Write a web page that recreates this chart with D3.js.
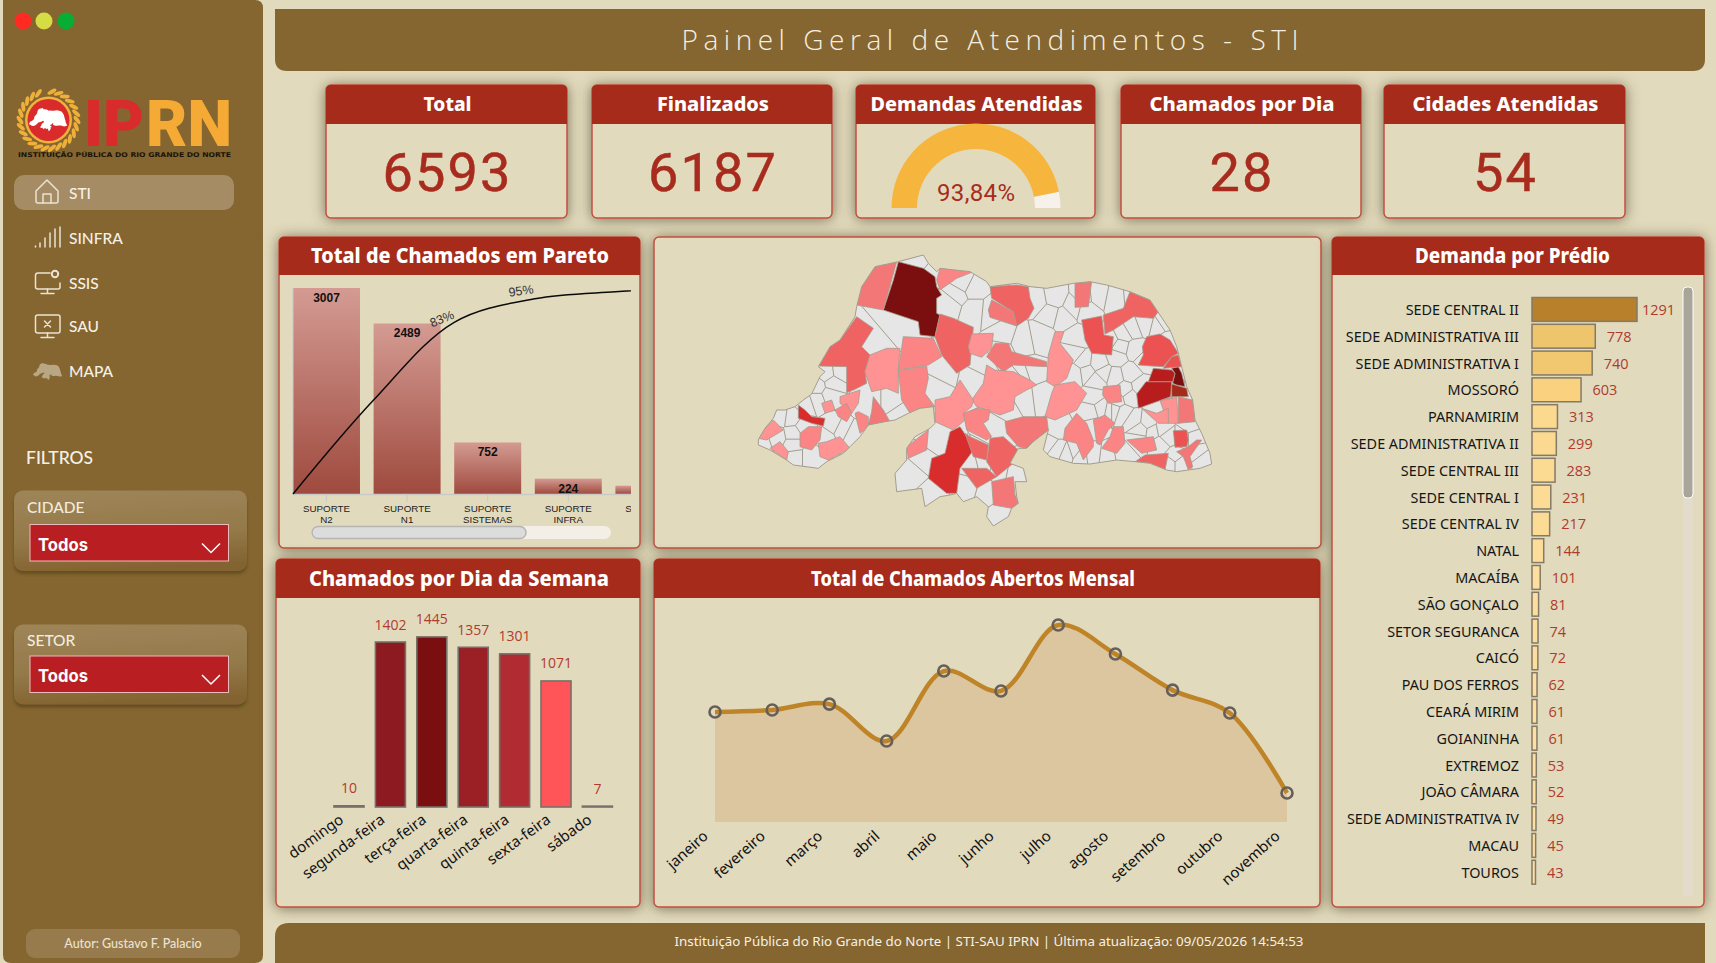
<!DOCTYPE html>
<html lang="pt-BR">
<head>
<meta charset="utf-8">
<title>Painel Geral de Atendimentos - STI</title>
<script src="https://cdnjs.cloudflare.com/ajax/libs/d3/7.9.0/d3.min.js"></script>
<style>
  html, body { margin: 0; padding: 0; background: #e2dabd; overflow: hidden; }
  svg { display: block; }
</style>
</head>
<body>
<svg id="painel" width="1716" height="963"></svg>
<script>
// ---------- dados ----------
const kpiTitles = ["Total", "Finalizados", "Demandas Atendidas", "Chamados por Dia", "Cidades Atendidas"];
const totalChamados = 6593;
const finalizados = 6187;
const chamadosPorDia = 28;
const cidadesAtendidas = 54;

const paretoCategories = ["SUPORTE N2", "SUPORTE N1", "SUPORTE SISTEMAS", "SUPORTE INFRA", "SUPORTE"];
const paretoValues = [3007, 2489, 752, 224, 121];

const weekDays = ["domingo", "segunda-feira", "terça-feira", "quarta-feira", "quinta-feira", "sexta-feira", "sábado"];
const weekValues = [10, 1402, 1445, 1357, 1301, 1071, 7];

const months = ["janeiro", "fevereiro", "março", "abril", "maio", "junho", "julho", "agosto", "setembro", "outubro", "novembro"];
const monthValues = [542, 552, 581, 399, 744, 646, 971, 828, 650, 537, 143];

const predioNames = ["SEDE CENTRAL II", "SEDE ADMINISTRATIVA III", "SEDE ADMINISTRATIVA I", "MOSSORÓ", "PARNAMIRIM",
  "SEDE ADMINISTRATIVA II", "SEDE CENTRAL III", "SEDE CENTRAL I", "SEDE CENTRAL IV", "NATAL", "MACAÍBA", "SÃO GONÇALO",
  "SETOR SEGURANCA", "CAICÓ", "PAU DOS FERROS", "CEARÁ MIRIM", "GOIANINHA", "EXTREMOZ", "JOÃO CÂMARA",
  "SEDE ADMINISTRATIVA IV", "MACAU", "TOUROS"];
const predioValues = [1291, 778, 740, 603, 313, 299, 283, 231, 217, 144, 101, 81, 74, 72, 62, 61, 61, 53, 52, 49, 45, 43];

const navItems = ["STI", "SINFRA", "SSIS", "SAU", "MAPA"];
const filterNames = ["CIDADE", "SETOR"];

// Contorno do estado, em unidades do mapa (0-1500 x 0-900)
const stateOutline = [[55,600],[60,590],[75,565],[100,535],[110,510],[135,510],[165,500],[190,480],[215,462],[240,410],[255,395],[235,380],[270,320],[300,300],[345,230],[350,200],[365,140],[405,80],[475,65],[550,45],[565,70],[590,95],[600,85],[690,95],[740,125],[750,140],[830,130],[870,140],[920,145],[1000,130],[1050,125],[1100,135],[1170,155],[1230,180],[1260,225],[1290,270],[1310,320],[1325,380],[1340,440],[1358,480],[1365,540],[1385,580],[1410,640],[1415,672],[1380,685],[1345,690],[1310,695],[1280,690],[1230,670],[1185,665],[1130,660],[1050,672],[1000,670],[930,650],[910,630],[925,570],[880,605],[860,625],[835,625],[810,670],[850,685],[860,725],[825,725],[830,770],[835,790],[815,805],[805,830],[760,858],[740,830],[745,800],[710,770],[670,785],[650,760],[630,765],[600,770],[555,800],[545,745],[470,755],[465,700],[500,660],[500,625],[525,590],[570,565],[585,550],[580,500],[540,505],[505,520],[465,540],[435,545],[385,555],[360,590],[330,620],[310,640],[260,665],[235,685],[160,675],[140,660],[90,630],[55,615]];

// Municípios sem chamados: sementes das células cinzas
const emptyCitySeeds = [[400,310],[470,250],[540,70],[570,95],[650,165],[630,190],[700,145],[700,210],[755,215],[790,280],[890,185],[900,290],[945,175],[970,230],[1030,170],[1075,165],[1125,175],[1010,295],[1040,210],[1175,265],[1255,260],[1140,320],[1185,330],[1030,365],[1075,370],[1130,350],[1070,420],[1125,410],[1170,400],[1215,360],[610,400],[590,440],[700,420],[725,370],[870,395],[900,475],[860,480],[1005,400],[1060,470],[1110,510],[1050,515],[1170,470],[1150,520],[1225,545],[1240,575],[1280,590],[1360,590],[1370,640],[1320,670],[1290,670],[1150,640],[1100,650],[1060,645],[950,625],[950,570],[1000,635],[595,600],[520,700],[550,665],[575,760],[680,750],[735,765],[775,825],[815,695],[700,670],[775,560],[800,515],[470,490],[480,505],[375,490],[280,560],[300,570],[340,590],[260,590],[230,440],[280,430],[260,400],[300,395],[230,480],[200,490],[120,530],[155,535],[160,580],[110,590],[160,615],[165,650],[210,650],[65,605],[190,560],[270,465],[1260,610],[1265,570],[1330,590],[1200,570],[1180,540],[1195,600],[1120,510],[1085,505],[1090,400],[1155,450],[1200,440],[1305,650],[1385,660],[1350,560],[930,610],[1040,395],[1000,340],[1150,280],[1110,300],[1215,250],[1270,250],[1280,300],[850,300],[930,220],[1000,200],[1180,170],[670,130],[780,335],[830,420],[855,400],[1130,480],[1060,560],[985,640],[1020,650],[790,690],[720,665]];

// Faixas de intensidade do mapa, da mais clara para a mais escura
const mapShades = ["#ff9292", "#fb8585", "#f47777", "#ef6363", "#ec5252", "#d92c2c", "#b81d1d", "#a52a1a", "#7b0f0f"];

// Municípios com chamados: [faixa, contorno]
const activeCities = [
  [8, [[475,65],[550,85],[585,110],[590,140],[605,165],[590,175],[590,220],[600,225],[585,290],[540,285],[535,245],[430,210],[460,120]]],
  [8, [[1295,385],[1315,380],[1325,400],[1335,440],[1310,435],[1298,430],[1305,400]]],
  [6, [[1190,462],[1218,425],[1295,425],[1292,470],[1195,505]]],
  [6, [[1240,385],[1295,390],[1305,400],[1298,425],[1225,425]]],
  [7, [[1295,432],[1340,445],[1345,470],[1295,470]]],
  [5, [[630,575],[660,560],[680,590],[697,635],[660,685],[650,760],[620,760],[565,715],[575,655],[615,640]]],
  [5, [[175,495],[195,510],[215,530],[255,535],[250,558],[215,550],[175,535]]],
  [4, [[1220,290],[1260,282],[1290,300],[1315,340],[1295,350],[1270,380],[1235,378],[1195,375],[1210,345],[1207,320]]],
  [4, [[1295,350],[1315,345],[1325,380],[1270,385]]],
  [3, [[750,140],[830,135],[865,140],[870,175],[882,205],[865,235],[830,258],[820,215],[755,175]]],
  [4, [[1025,240],[1085,228],[1092,285],[1120,290],[1115,345],[1055,340],[1035,300]]],
  [3, [[1170,155],[1230,180],[1255,215],[1240,235],[1180,230],[1120,270],[1095,282],[1090,225],[1150,205]]],
  [4, [[1300,572],[1340,570],[1345,600],[1340,620],[1305,622]]],
  [3, [[1185,665],[1215,645],[1285,640],[1275,690],[1230,670]]],
  [3, [[585,290],[600,222],[640,235],[700,262],[690,375],[650,400],[605,345]]],
  [3, [[350,230],[400,265],[365,320],[390,345],[375,395],[380,430],[345,448],[320,458],[320,380],[237,378],[270,320],[300,300]]],
  [2, [[405,80],[470,65],[430,210],[350,195],[365,140]]],
  [2, [[755,180],[820,215],[830,258],[750,232],[745,210]]],
  [3, [[740,665],[750,595],[790,590],[835,630],[820,670],[770,710]]],
  [3, [[675,580],[690,590],[745,615],[740,660],[700,650]]],
  [3, [[665,685],[740,685],[770,710],[710,745]]],
  [2, [[755,725],[820,710],[825,765],[835,790],[815,805],[760,795]]],
  [0, [[390,345],[440,325],[480,325],[475,385],[475,460],[440,445],[395,455],[375,395]]],
  [1, [[490,290],[580,295],[605,350],[565,375],[475,390]]],
  [1, [[475,392],[560,378],[565,415],[555,460],[585,500],[540,505],[510,520],[485,480]]],
  [1, [[600,85],[640,85],[700,95],[650,115],[600,150],[590,120]]],
  [0, [[695,282],[760,280],[755,325],[725,352],[690,340],[685,320]]],
  [2, [[765,310],[805,310],[815,335],[920,365],[920,380],[820,375],[790,395],[740,350]]],
  [0, [[740,375],[765,390],[820,395],[870,420],[890,435],[860,450],[825,470],[820,510],[780,525],[740,510],[710,500],[695,480],[730,430]]],
  [0, [[660,420],[700,480],[695,500],[670,520],[675,540],[640,570],[585,545],[585,480],[630,470]]],
  [1, [[710,505],[750,510],[745,540],[730,550],[755,590],[740,600],[680,570],[670,520]]],
  [0, [[945,275],[972,275],[960,310],[1000,360],[980,415],[945,440],[920,425],[925,345]]],
  [0, [[945,435],[1005,425],[1040,460],[1010,510],[945,540],[915,530],[935,460]]],
  [2, [[795,545],[850,530],[920,530],[925,570],[880,605],[860,625],[835,620],[800,580]]],
  [1, [[1010,520],[1040,550],[1060,600],[1060,620],[1030,660],[1010,610],[970,600],[975,565]]],
  [1, [[1060,540],[1095,525],[1125,550],[1105,570],[1080,615],[1070,610]]],
  [1, [[1120,560],[1150,560],[1155,610],[1130,640],[1085,625],[1110,590]]],
  [1, [[1160,600],[1240,590],[1250,630],[1205,640]]],
  [2, [[1005,130],[1055,125],[1045,200],[1005,202]]],
  [1, [[1090,440],[1140,435],[1145,485],[1105,490],[1088,465]]],
  [0, [[1260,482],[1310,472],[1315,550],[1285,550]]],
  [2, [[1315,470],[1358,480],[1365,545],[1315,550]]],
  [0, [[1205,505],[1250,520],[1285,505],[1285,550],[1255,550]]],
  [2, [[1310,635],[1345,620],[1370,600],[1385,600],[1350,650],[1358,680],[1345,690],[1330,650]]],
  [1, [[500,620],[565,570],[560,630],[505,655]]],
  [0, [[70,570],[100,540],[130,570],[80,600],[55,595]]],
  [0, [[90,625],[120,605],[145,635],[140,660]]],
  [1, [[180,580],[205,560],[245,560],[240,600],[215,630],[180,620]]],
  [0, [[235,610],[260,605],[300,590],[330,625],[265,660],[240,650]]],
  [0, [[300,470],[360,450],[355,490],[335,520],[300,490]]],
  [1, [[285,510],[320,490],[335,520],[320,545],[295,530]]],
  [0, [[245,490],[275,480],[285,510],[255,520]]],
  [2, [[400,470],[430,510],[450,545],[385,555],[395,515]]],
  [1, [[345,520],[355,515],[385,530],[385,560],[360,580]]]
];

// ---------- estilos comuns ----------
const BROWN = "#856530", RED_HEAD = "#a62b1a", RED_TEXT = "#a82c1e", PANEL = "#e2dabd", CREAM = "#f4efe2";
const UI_FONT = "'Noto Sans', 'Open Sans', sans-serif";
const NAV_FONT = "Lato, 'Noto Sans', sans-serif";
const NARROW_FONT = "'Liberation Sans Narrow', Roboto, sans-serif";
const svg = d3.select("#painel");
const defs = svg.append("defs");

const glow = defs.append("filter").attr("id", "sombra")
  .attr("x", "-15%").attr("y", "-15%").attr("width", "130%").attr("height", "130%");
glow.append("feDropShadow").attr("dx", 0).attr("dy", 1).attr("stdDeviation", 7)
  .attr("flood-color", "#4d4526").attr("flood-opacity", 0.7);

const softShadow = defs.append("filter").attr("id", "sombraFiltro")
  .attr("x", "-10%").attr("y", "-10%").attr("width", "120%").attr("height", "130%");
softShadow.append("feDropShadow").attr("dx", 0).attr("dy", 3).attr("stdDeviation", 1.5)
  .attr("flood-color", "#4a3a14").attr("flood-opacity", 0.55);

const barFade = defs.append("linearGradient").attr("id", "barraPareto")
  .attr("x1", 0).attr("x2", 0).attr("y1", 0).attr("y2", 1);
barFade.append("stop").attr("offset", "0%").attr("stop-color", "#d49b93");
barFade.append("stop").attr("offset", "100%").attr("stop-color", "#9f4a3e");

const filterFade = defs.append("linearGradient").attr("id", "fundoFiltro")
  .attr("x1", 0.1).attr("x2", 0.25).attr("y1", 0).attr("y2", 1);
filterFade.append("stop").attr("offset", "0%").attr("stop-color", "#9e8558");
filterFade.append("stop").attr("offset", "60%").attr("stop-color", "#94794a");
filterFade.append("stop").attr("offset", "100%").attr("stop-color", "#846431");

function label(parent, text, x, y, opts = {}) {
  const t = parent.append("text").attr("x", x).attr("y", y).text(text)
    .attr("dominant-baseline", "central")
    .attr("text-anchor", opts.anchor || "middle")
    .attr("font-family", opts.font || UI_FONT)
    .attr("font-size", opts.size || 14)
    .attr("font-weight", opts.weight || 400)
    .attr("fill", opts.fill || "#111");
  if (opts.spacing) t.attr("letter-spacing", opts.spacing);
  if (opts.width) t.attr("textLength", opts.width).attr("lengthAdjust", opts.adjust || "spacingAndGlyphs");
  return t;
}

// Cartão com cabeçalho vermelho
function card(x, y, w, h, headH, title, titleWidth, titleSize, titleX) {
  const g = svg.append("g");
  g.append("rect").attr("x", x).attr("y", y).attr("width", w).attr("height", h).attr("rx", 5)
    .attr("fill", PANEL).attr("stroke", "#c2503f").attr("stroke-width", 1.5).attr("filter", "url(#sombra)");
  if (headH) {
    const r = 5;
    g.append("path").attr("d", `M${x},${y + headH}V${y + r}Q${x},${y} ${x + r},${y}H${x + w - r}Q${x + w},${y} ${x + w},${y + r}V${y + headH}Z`)
      .attr("fill", RED_HEAD);
    label(g, title, titleX, y + headH / 2 - 1, { size: titleSize, weight: 800, fill: "#fff", width: titleWidth });
  }
  return g;
}

// ---------- barra lateral, título e rodapé ----------
const side = svg.append("g");
side.append("path").attr("d", "M3,0H255Q263,0 263,8V955Q263,963 255,963H11Q3,963 3,955Z").attr("fill", BROWN);
[["#ff2a22", 23], ["#d6dc44", 44], ["#08ad34", 66]].forEach(([c, x]) =>
  side.append("circle").attr("cx", x).attr("cy", 21).attr("r", 8.5).attr("fill", c));

// Logotipo: coroa de louros, disco vermelho com o estado e a sigla
const logo = side.append("g");
d3.range(0, 26).forEach(i => {
  const a = (i / 26) * 2 * Math.PI + 0.12;
  if (Math.abs(a - Math.PI * 2) < 0.2 || a < 0.1) return;
  const deg = a * 180 / Math.PI;
  logo.append("ellipse").attr("rx", 5).attr("ry", 2)
    .attr("transform", `translate(48.5,120) rotate(${deg - 90}) translate(28.5,0) rotate(55)`)
    .attr("fill", "#eeb03a");
});
logo.append("circle").attr("cx", 48.5).attr("cy", 120).attr("r", 23.5).attr("fill", "#f2b33e");
logo.append("circle").attr("cx", 48.5).attr("cy", 120).attr("r", 21).attr("fill", "#d92b2b");
const logoX = d3.scaleLinear().domain([55, 1415]).range([29, 67]);
const logoY = d3.scaleLinear().domain([45, 858]).range([108, 131]);
logo.append("path").attr("fill", "#fff")
  .attr("d", d3.line().x(d => logoX(d[0])).y(d => logoY(d[1])).curve(d3.curveLinearClosed)(stateOutline));
logo.append("text").text("IP").attr("x", 84).attr("y", 146).attr("textLength", 60).attr("lengthAdjust", "spacingAndGlyphs")
  .attr("font-family", "Roboto, sans-serif").attr("font-weight", 900).attr("font-size", 64).attr("fill", "#d92b2b");
logo.append("text").text("RN").attr("x", 146).attr("y", 146).attr("textLength", 86).attr("lengthAdjust", "spacingAndGlyphs")
  .attr("font-family", "Roboto, sans-serif").attr("font-weight", 900).attr("font-size", 64).attr("fill", "#f5aa36");
label(logo, "INSTITUIÇÃO PÚBLICA DO RIO GRANDE DO NORTE", 18, 155,
  { anchor: "start", size: 6.5, weight: 700, fill: "#1a1408", width: 213, font: "'DejaVu Sans', sans-serif" });

// Navegação
side.append("rect").attr("x", 14).attr("y", 175).attr("width", 220).attr("height", 35).attr("rx", 10).attr("fill", "#a58c64");
const navY = [193, 238, 283, 326, 371];
navItems.forEach((n, i) => label(side, n, 69, navY[i], { anchor: "start", size: 15.5, weight: 500, fill: "#f6f1e6", font: NAV_FONT }));

const icon = side.append("g").attr("fill", "none").attr("stroke", "#e9e3d4").attr("stroke-width", 1.5).attr("stroke-linecap", "round").attr("stroke-linejoin", "round");
icon.append("path").attr("d", "M36,191L47,180L58,191V201Q58,203 56,203H38Q36,203 36,201Z");
icon.append("path").attr("d", "M43,203V194H51V203");
[[35.5, 246], [40, 243], [45, 238], [50, 233], [55, 229], [60, 227]].forEach(([x, top]) =>
  icon.append("line").attr("x1", x).attr("x2", x).attr("y1", 247).attr("y2", top));
icon.append("path").attr("d", "M50,273H38Q35.5,273 35.5,275.5V287Q35.5,289 38,289H58Q60,289 60,287V283");
icon.append("path").attr("d", "M47.5,289V293M41,293.5H54");
icon.append("circle").attr("cx", 55).attr("cy", 274).attr("r", 3.2).attr("stroke-width", 2);
icon.append("path").attr("d", "M38,315H58Q60,315 60,317V331Q60,333 58,333H38Q35.5,333 35.5,331V317Q35.5,315 38,315Z");
icon.append("path").attr("d", "M47.5,333V337M41,337.5H54M44.5,321L50.5,327M50.5,321L44.5,327");
const miniX = d3.scaleLinear().domain([55, 1415]).range([33, 62]);
const miniY = d3.scaleLinear().domain([45, 858]).range([363, 380]);
side.append("path").attr("fill", "#b8a685")
  .attr("d", d3.line().x(d => miniX(d[0])).y(d => miniY(d[1])).curve(d3.curveLinearClosed)(stateOutline));

// Filtros
label(side, "FILTROS", 26, 457.5, { anchor: "start", size: 17.5, weight: 500, fill: "#f6f1e6", font: NAV_FONT });
const filterBoxY = [490.5, 624.5], filterBoxH = [80.5, 80], filterLabelY = [506.5, 640], filterSelectY = [524.5, 656];
filterNames.forEach((n, i) => {
  side.append("rect").attr("x", 14).attr("y", filterBoxY[i]).attr("width", 233).attr("height", filterBoxH[i]).attr("rx", 9)
    .attr("fill", "url(#fundoFiltro)").attr("filter", "url(#sombraFiltro)");
  label(side, n, 27, filterLabelY[i], { anchor: "start", size: 15.5, weight: 500, fill: "#f2ecdd", font: NAV_FONT });
  side.append("rect").attr("x", 30).attr("y", filterSelectY[i]).attr("width", 198.5).attr("height", 36.5)
    .attr("fill", "#b91f22").attr("stroke", "#e9bcbc").attr("stroke-width", 1);
  label(side, "Todos", 38, filterSelectY[i] + 19.5, { anchor: "start", size: 18, weight: 700, fill: "#fff", font: "Inter, " + UI_FONT, width: 50 });
  side.append("path").attr("d", `M202,${filterSelectY[i] + 19}L211,${filterSelectY[i] + 28}L220,${filterSelectY[i] + 19}`)
    .attr("fill", "none").attr("stroke", "#fff").attr("stroke-width", 1.5);
});

side.append("rect").attr("x", 26).attr("y", 929).attr("width", 214).attr("height", 29).attr("rx", 9).attr("fill", "#987b4c");
label(side, "Autor: Gustavo F. Palacio", 133, 943, { size: 12.5, weight: 500, fill: "#eae3d2", font: NAV_FONT });

svg.append("path").attr("d", "M275,9H1705V59Q1705,71 1693,71H287Q275,71 275,59Z").attr("fill", BROWN);
label(svg, "Painel Geral de Atendimentos - STI", 990, 39, { size: 28, weight: 300, fill: CREAM, font: "'Open Sans', sans-serif", width: 617, adjust: "spacing" });

svg.append("path").attr("d", "M275,963V937Q275,923 289,923H1705V963Z").attr("fill", BROWN);
label(svg, "Instituição Pública do Rio Grande do Norte | STI-SAU IPRN | Última atualização: 09/05/2026 14:54:53", 989, 941,
  { size: 13, fill: "#f6f1e6", width: 629 });

// ---------- indicadores ----------
const kpiLeft = [326, 592, 856, 1121, 1384], kpiRight = [567, 832, 1095, 1361, 1625];
const kpiTitleWidth = [48, 112, 212, 185, 186];
const kpiNumbers = [totalChamados, finalizados, null, chamadosPorDia, cidadesAtendidas];
kpiTitles.forEach((t, i) => {
  const g = card(kpiLeft[i], 85, kpiRight[i] - kpiLeft[i], 133, 39, t, kpiTitleWidth[i], 20, (kpiLeft[i] + kpiRight[i]) / 2 + 1);
  if (kpiNumbers[i] !== null) {
    label(g, kpiNumbers[i], (kpiLeft[i] + kpiRight[i]) / 2 + 1, 172,
      { size: 54, fill: RED_TEXT, font: NARROW_FONT, spacing: 2.2 })
      .attr("stroke", RED_TEXT).attr("stroke-width", 0.5);
  }
});

// Medidor de demandas atendidas
const gaugeShare = finalizados / totalChamados;
const gaugeAngle = d3.scaleLinear().domain([0, 1]).range([-Math.PI / 2, Math.PI / 2]);
const gaugeArc = d3.arc().innerRadius(59).outerRadius(84.5);
const gauge = svg.append("g").attr("transform", "translate(976,208)");
gauge.append("path").attr("fill", "#f6f1ea").attr("d", gaugeArc({ startAngle: gaugeAngle(gaugeShare), endAngle: gaugeAngle(1) }));
gauge.append("path").attr("fill", "#f6b53d").attr("d", gaugeArc({ startAngle: gaugeAngle(0), endAngle: gaugeAngle(gaugeShare) }));
label(gauge, d3.format(".2f")(gaugeShare * 100).replace(".", ",") + "%", 0, -15,
  { size: 24, fill: RED_TEXT, font: NARROW_FONT, width: 78, adjust: "spacing" });

// ---------- Pareto ----------
const paretoPanel = card(279, 237, 361, 311, 38, "Total de Chamados em Pareto", 298, 21, 460);
defs.append("clipPath").attr("id", "cortePareto").append("rect").attr("x", 285).attr("y", 276).attr("width", 346).attr("height", 251);
const pareto = paretoPanel.append("g").attr("clip-path", "url(#cortePareto)");
const paretoX = d3.scaleBand().domain(paretoCategories)
  .range([293, 293 + 80.6 * (paretoCategories.length - 0.169)]).paddingInner(0.169).paddingOuter(0);
const paretoY = d3.scaleLinear().domain([0, 3007]).range([494, 288]);
pareto.selectAll("rect.barra").data(paretoValues).join("rect").attr("class", "barra")
  .attr("x", (d, i) => paretoX(paretoCategories[i])).attr("width", paretoX.bandwidth())
  .attr("y", d => paretoY(d)).attr("height", d => 494 - paretoY(d)).attr("fill", "url(#barraPareto)");
pareto.append("line").attr("x1", 293).attr("x2", 631).attr("y1", 494.5).attr("y2", 494.5).attr("stroke", "#c9c9c6").attr("stroke-width", 1.5);
pareto.append("line").attr("x1", 293).attr("x2", 293).attr("y1", 288).attr("y2", 494).attr("stroke", "#c9c9c6").attr("stroke-width", 1);
paretoCategories.forEach((c, i) => {
  const cx = paretoX(c) + paretoX.bandwidth() / 2;
  pareto.append("line").attr("x1", cx).attr("x2", cx).attr("y1", 495).attr("y2", 502).attr("stroke", "#c9c9c6");
  c.split(" ").forEach((w, j) => label(pareto, w, cx, 508.5 + j * 11, { size: 9.8, fill: "#222", font: "'Liberation Sans', sans-serif" }));
  if (paretoValues[i] > 150) {
    label(pareto, paretoValues[i], cx, paretoY(paretoValues[i]) + 10, { size: 12, weight: 700, fill: "#111", font: "'Liberation Sans', sans-serif" });
  }
});
const paretoStep = paretoX.step();
const cumulative = Array.from(d3.cumsum(paretoValues), v => v / totalChamados);
const curvePoints = [[0, 0]].concat(cumulative.map((v, i) => [i + 1, v]));
const cumY = d3.scaleLinear().domain([0, 1]).range([494, 288]);
pareto.append("path").attr("fill", "none").attr("stroke", "#0a0a0a").attr("stroke-width", 1.5)
  .attr("d", d3.line().x(d => 293 + d[0] * paretoStep).y(d => cumY(d[1])).curve(d3.curveCatmullRom.alpha(0.5))(curvePoints));
label(pareto, d3.format(".0f")(cumulative[1] * 100) + "%", 442, 319, { size: 12.5, fill: "#333", font: "'Liberation Sans', sans-serif" })
  .attr("transform", "rotate(-22,442,319)");
label(pareto, d3.format(".0f")(cumulative[2] * 100) + "%", 521, 291, { size: 12.5, fill: "#333", font: "'Liberation Sans', sans-serif" })
  .attr("transform", "rotate(-8,521,291)");
paretoPanel.append("rect").attr("x", 311).attr("y", 526).attr("width", 300).attr("height", 13).attr("rx", 6.5).attr("fill", "#f3eee6");
paretoPanel.append("rect").attr("x", 312).attr("y", 526.5).attr("width", 214).attr("height", 12).attr("rx", 6).attr("fill", "#dcdcdc").attr("stroke", "#b5b5b2").attr("stroke-width", 1.5);

// ---------- mapa ----------
const mapPanel = card(654, 237, 667, 311, 0);
const mapX = d3.scaleLinear().domain([0, 1500]).range([740, 1240]);
const mapY = d3.scaleLinear().domain([0, 900]).range([240, 540]);
const project = d => [mapX(d[0]), mapY(d[1])];
const polyPath = pts => d3.line().curve(d3.curveLinearClosed)(pts.map(project));
defs.append("clipPath").attr("id", "corteEstado").append("path").attr("d", polyPath(stateOutline));
const map = mapPanel.append("g");
map.append("path").attr("d", polyPath(stateOutline)).attr("fill", "#e6e6e6");
const cells = d3.Delaunay.from(emptyCitySeeds.map(project)).voronoi([740, 240, 1240, 540]);
map.append("path").attr("clip-path", "url(#corteEstado)").attr("d", cells.render())
  .attr("fill", "none").attr("stroke", "#a39d8e").attr("stroke-width", 1);
map.selectAll("path.cidade").data(activeCities).join("path").attr("class", "cidade")
  .attr("d", d => polyPath(d[1])).attr("fill", d => mapShades[d[0]])
  .attr("clip-path", "url(#corteEstado)")
  .attr("stroke", "#a39d8e").attr("stroke-width", 0.8);
map.append("path").attr("d", polyPath(stateOutline)).attr("fill", "none").attr("stroke", "#a39d8e").attr("stroke-width", 1);

// ---------- dia da semana ----------
const weekPanel = card(276, 559, 364, 348, 39, "Chamados por Dia da Semana", 300, 21, 459);
const weekX = d3.scaleBand().domain(weekDays)
  .range([334, 334 + 41.4 * (7 - 0.275)]).paddingInner(0.275).paddingOuter(0);
const weekY = d3.scaleLinear().domain([0, 1402]).range([807, 642]);
const weekColor = d3.scaleLinear().domain([1071, 1301, 1357, 1402, 1445])
  .range(["#ff5559", "#b02c32", "#9a2026", "#8c1a20", "#7b0f10"]).clamp(true);
weekPanel.selectAll("rect.dia").data(weekValues).join("rect").attr("class", "dia")
  .attr("x", (d, i) => weekX(weekDays[i])).attr("width", weekX.bandwidth())
  .attr("y", d => weekY(d)).attr("height", d => 807 - weekY(d))
  .attr("fill", d => weekColor(d)).attr("stroke", "#76706a").attr("stroke-width", 1.6);
weekValues.forEach((v, i) => {
  const cx = weekX(weekDays[i]) + weekX.bandwidth() / 2;
  label(weekPanel, v, cx, weekY(v) - 18, { size: 14, fill: "#b03a2e", font: "'Open Sans', sans-serif" });
  label(weekPanel, weekDays[i], cx - 8, 817, { anchor: "end", size: 15, fill: "#111" })
    .attr("transform", `rotate(-36,${cx - 8},817)`);
});

// ---------- evolução mensal ----------
const monthPanel = card(654, 559, 666, 348, 39, "Total de Chamados Abertos Mensal", 324, 21, 973);
const monthX = d3.scalePoint().domain(months).range([715, 1287]);
const monthY = d3.scaleLinear().domain([0, 971]).range([822, 625]);
const monthCurve = d3.curveCatmullRom.alpha(0.5);
monthPanel.append("path").attr("fill", "#dcc6a0")
  .datum(monthValues)
  .attr("d", d3.area().x((d, i) => monthX(months[i])).y0(822).y1(d => monthY(d)).curve(monthCurve));
monthPanel.append("path").attr("fill", "none").attr("stroke", "#bf8428").attr("stroke-width", 4.5)
  .datum(monthValues)
  .attr("d", d3.line().x((d, i) => monthX(months[i])).y(d => monthY(d)).curve(monthCurve));
monthPanel.selectAll("circle.mes").data(monthValues).join("circle").attr("class", "mes")
  .attr("cx", (d, i) => monthX(months[i])).attr("cy", d => monthY(d)).attr("r", 5.5)
  .attr("fill", "none").attr("stroke", "#655f58").attr("stroke-width", 2.6);
months.forEach(m => {
  const ex = monthX(m) - 10;
  label(monthPanel, m, ex, 833, { anchor: "end", size: 15, fill: "#111" })
    .attr("transform", `rotate(-42,${ex},833)`);
});

// ---------- demanda por prédio ----------
const predioPanel = card(1332, 237, 372, 670, 38, "Demanda por Prédio", 195, 21, 1512.5);
const rowY = d3.scaleBand().domain(predioNames)
  .range([297.5, 297.5 + 26.8 * (predioNames.length - 0.11)]).paddingInner(0.11).paddingOuter(0);
const rowX = d3.scaleLinear().domain([0, 1291]).range([1532, 1637]);
const rowColor = d3.scaleLinear().domain([43, 313, 603, 778, 1291])
  .range(["#fddf9f", "#fbd98f", "#fad27f", "#eec46c", "#b8802a"]);
predioPanel.selectAll("rect.predio").data(predioValues).join("rect").attr("class", "predio")
  .attr("x", 1532).attr("y", (d, i) => rowY(predioNames[i]))
  .attr("width", d => rowX(d) - 1532).attr("height", rowY.bandwidth())
  .attr("fill", d => rowColor(d)).attr("stroke", "#837a68").attr("stroke-width", 1.5);
predioValues.forEach((v, i) => {
  const cy = rowY(predioNames[i]) + rowY.bandwidth() / 2;
  label(predioPanel, predioNames[i], 1519, cy, { anchor: "end", size: 14.4, fill: "#151515" });
  label(predioPanel, v, Math.min(rowX(v) + 11.5, 1642), cy, { anchor: "start", size: 14.5, fill: "#b03a2e", font: "'Open Sans', sans-serif" });
});
predioPanel.append("rect").attr("x", 1683).attr("y", 287).attr("width", 10).attr("height", 610).attr("rx", 4).attr("fill", "#e3dccd");
predioPanel.append("rect").attr("x", 1683).attr("y", 287).attr("width", 10).attr("height", 211).attr("rx", 4).attr("fill", "#a9a59a").attr("stroke", "#fff").attr("stroke-width", 1);
</script>
</body>
</html>
